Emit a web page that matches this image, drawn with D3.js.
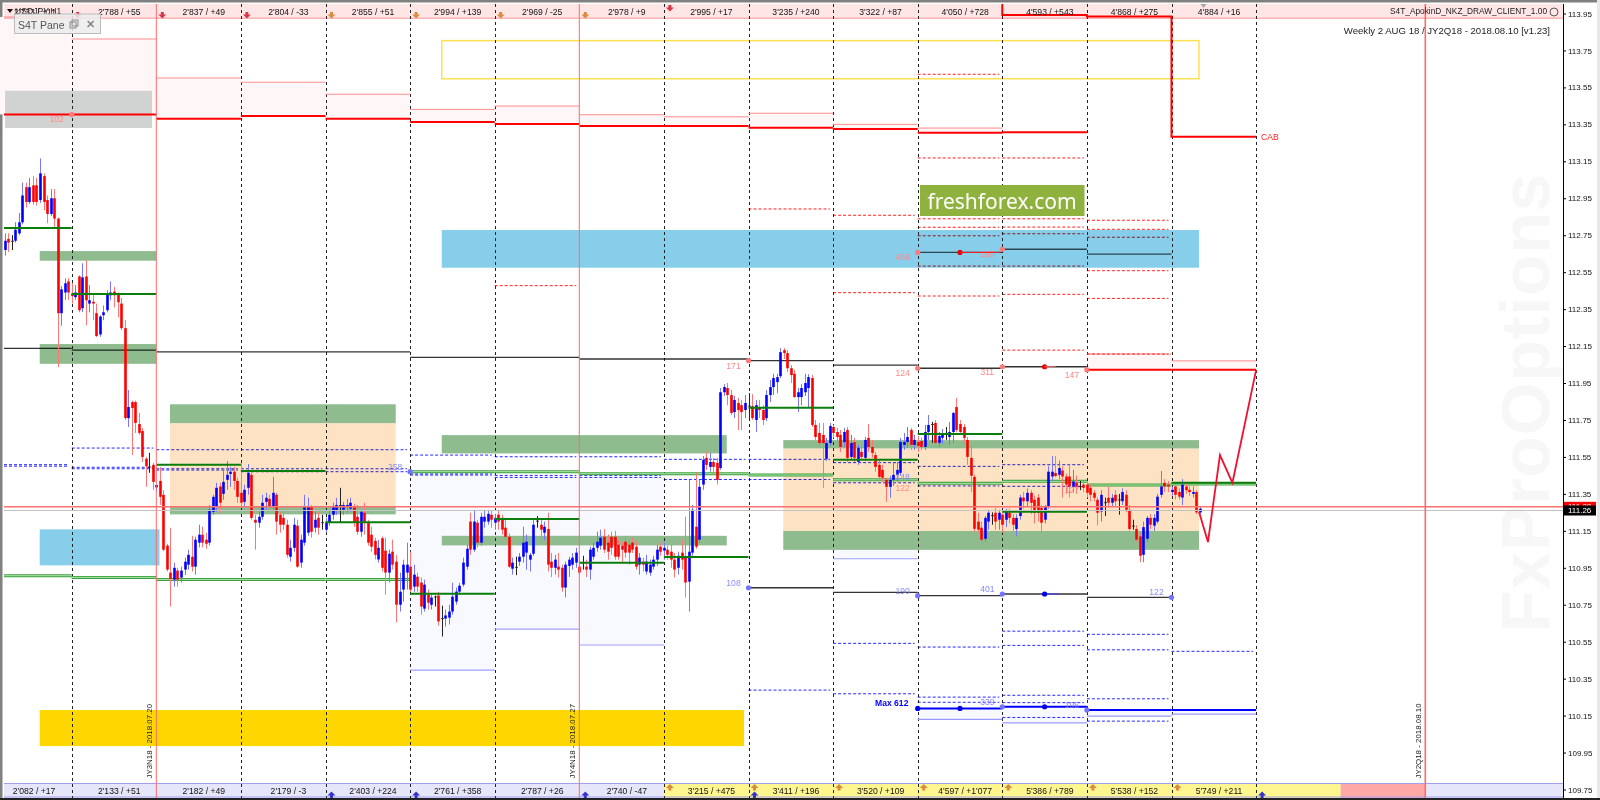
<!DOCTYPE html>
<html>
<head>
<meta charset="utf-8">
<style>
  html, body { margin: 0; padding: 0; background: #fff; }
  text { font-family: "Liberation Sans", Arial, sans-serif; font-size: 8.6px; }
</style>
<script src="https://cdn.jsdelivr.net/npm/d3@7"></script>
</head>
<body>
<div id="chart"></div>
<script>
// H1 bars per weekly column, each row is open, high, low, close
const barsM1 = [[112.67,112.76,112.64,112.72],[112.73,112.76,112.66,112.71],[112.72,112.75,112.67,112.715],[112.72,112.82,112.71,112.78],[112.76,112.87,112.75,112.82],[112.82,113.035,112.81,112.965],[113.01,113.035,112.90,112.93],[112.93,113.06,112.92,113.01],[113.02,113.07,112.915,112.93],[113.02,113.06,112.91,112.93],[112.94,113.165,112.925,113.085],[113.07,113.085,112.885,112.93],[112.94,112.965,112.815,112.865],[112.865,113,112.855,112.95],[112.95,113,112.785,112.84],[112.84,112.846,112.036,112.328],[112.328,112.475,112.26,112.457],[112.44,112.517,112.40,112.49],[112.5,112.517,112.40,112.44]];
const bars0 = [[112.435,112.49,112.38,112.42],[112.415,112.48,112.40,112.44],[112.527,112.533,112.333,112.344],[112.355,112.598,112.333,112.522],[112.527,112.614,112.263,112.398],[112.38,112.48,112.333,112.398],[112.39,112.43,112.29,112.38],[112.328,112.38,112.2,112.204],[112.213,112.317,112.2,112.31],[112.317,112.37,112.29,112.333],[112.344,112.452,112.333,112.435],[112.425,112.5,112.398,112.44],[112.445,112.47,112.36,112.425],[112.435,112.44,112.306,112.387],[112.38,112.41,112.236,112.247],[112.247,112.29,111.75,111.76],[111.76,111.912,111.712,111.82],[111.847,111.855,111.56,111.815],[111.847,111.855,111.68,111.734],[111.728,111.788,111.67,111.68],[111.69,111.707,111.523,111.55],[111.54,111.55,111.388,111.50],[111.498,111.572,111.464,111.494],[111.507,111.518,111.372,111.415]];
const bars1 = [[111.385,111.40,111.36,111.398],[111.42,111.496,111.29,111.334],[111.345,111.37,111.04,111.048],[111.07,111.08,110.93,110.94],[110.924,111.167,110.74,110.89],[110.886,110.978,110.848,110.95],[110.935,110.95,110.848,110.886],[110.897,110.956,110.87,110.935],[110.94,111.005,110.91,110.983],[110.967,111.048,110.94,111.02],[111.01,111.123,110.93,110.956],[110.956,111.118,110.913,111.102],[111.086,111.183,111.06,111.129],[111.129,111.172,111.06,111.086],[111.102,111.14,111.053,111.08],[111.086,111.29,111.07,111.264],[111.253,111.345,111.237,111.334],[111.28,111.41,111.253,111.383],[111.39,111.41,111.248,111.302],[111.35,111.49,111.318,111.415],[111.426,111.528,111.372,111.453],[111.458,111.496,111.388,111.47],[111.47,111.496,111.372,111.42],[111.42,111.437,111.302,111.334]];
const bars2 = [[111.356,111.518,111.28,111.302],[111.307,111.4,111.28,111.372],[111.383,111.512,111.345,111.464],[111.453,111.48,111.21,111.22],[111.21,111.237,111.048,111.194],[111.194,111.253,111.167,111.226],[111.226,111.345,111.21,111.302],[111.307,111.356,111.264,111.329],[111.323,111.345,111.264,111.28],[111.28,111.442,111.264,111.356],[111.345,111.356,111.129,111.2],[111.237,111.253,111.14,111.183],[111.22,111.264,111.156,111.183],[111.183,111.21,111.005,111.02],[111.01,111.102,110.983,111.058],[111.058,111.22,111.037,111.183],[111.178,111.21,110.95,110.956],[110.978,111.129,110.95,111.102],[111.086,111.345,111.07,111.28],[111.14,111.33,111.123,111.28],[111.28,111.29,111.113,111.145],[111.167,111.253,111.14,111.21],[111.22,111.253,111.129,111.167],[111.197,111.237,111.156,111.193]];
const bars3 = [[111.156,111.22,111.14,111.194],[111.194,111.264,111.178,111.237],[111.237,111.302,111.21,111.28],[111.258,111.329,111.237,111.29],[111.29,111.383,111.194,111.285],[111.264,111.307,111.237,111.29],[111.28,111.323,111.248,111.29],[111.27,111.329,111.253,111.302],[111.28,111.296,111.172,111.194],[111.226,111.29,111.129,111.145],[111.145,111.264,111.118,111.253],[111.248,111.302,111.129,111.2],[111.194,111.21,111.07,111.086],[111.129,111.172,111.037,111.064],[111.096,111.113,110.995,111.02],[110.995,111.102,110.978,111.058],[111.11,111.12,110.93,110.95],[111.043,111.113,110.805,110.924],[110.924,111.048,110.87,111.026],[111.037,111.102,110.94,110.967],[110.983,111.02,110.654,110.75],[110.75,110.924,110.713,110.82],[110.832,110.994,110.767,110.967],[110.924,111.086,110.832,110.967]];
const bars4 = [[110.956,111.037,110.82,110.832],[110.848,110.967,110.82,110.913],[110.902,110.924,110.82,110.848],[110.87,110.897,110.697,110.74],[110.729,110.886,110.713,110.859],[110.805,110.832,110.724,110.761],[110.75,110.805,110.724,110.789],[110.795,110.8,110.74,110.79],[110.8,110.82,110.637,110.66],[110.678,110.745,110.578,110.674],[110.675,110.724,110.632,110.692],[110.68,110.75,110.643,110.713],[110.713,110.869,110.697,110.794],[110.767,110.843,110.75,110.821],[110.821,110.869,110.805,110.853],[110.859,111.005,110.848,110.978],[110.956,111.075,110.94,111.053],[111.2,111.248,111.02,111.048],[111.048,111.264,111.037,111.2],[111.194,111.21,111.06,111.086],[111.086,111.248,111.07,111.226],[111.2,111.264,111.167,111.226],[111.2,111.264,111.183,111.242],[111.237,111.258,111.167,111.21]];
const bars5 = [[111.194,111.24,111.156,111.22],[111.237,111.264,111.156,111.2],[111.22,111.237,111.129,111.156],[111.167,111.21,111.1,111.118],[111.118,111.135,110.95,110.956],[110.945,111.005,110.913,110.978],[110.955,111.01,110.91,110.95],[110.983,111.03,110.96,111.01],[111.01,111.172,110.978,111.086],[111.032,111.129,110.94,111.091],[110.994,111.03,110.93,111.02],[111.026,111.21,111.015,111.183],[111.205,111.23,111.167,111.2],[111.183,111.21,111.1,111.156],[111.14,111.2,111.1,111.172],[111.16,111.248,110.93,110.967],[110.983,111.03,110.9,110.95],[110.95,111.02,110.913,110.994],[110.956,111.03,110.897,110.94],[110.95,110.967,110.82,110.843],[110.843,110.983,110.789,110.967],[110.96,111.01,110.9,110.994],[110.967,111.03,110.94,111.005],[110.978,111.058,110.95,111.032]];
const bars6 = [[110.956,110.994,110.913,110.924],[110.98,111.015,110.94,110.975],[110.956,110.994,110.9,110.94],[110.94,111.064,110.886,111.048],[111.01,111.086,110.994,111.058],[111.058,111.145,111.037,111.091],[111.07,111.156,111.048,111.113],[111.118,111.16,111.03,111.048],[111.086,111.13,110.994,111.037],[111.118,111.145,111.02,111.058],[111.118,111.15,110.994,111.01],[111.075,111.102,110.994,111.01],[111.07,111.09,110.983,111.048],[111.091,111.123,111.005,111.032],[111.075,111.102,110.967,111.032],[111.086,111.113,111.03,111.048],[111.064,111.096,110.94,110.956],[110.967,111.03,110.913,111.005],[110.983,111.005,110.93,110.967],[110.93,111.02,110.913,110.983],[110.924,110.994,110.907,110.967],[110.956,111.015,110.94,110.994],[110.994,111.075,110.96,111.048],[111.064,111.086,111.015,111.037]];
const bars7 = [[111.043,111.086,110.994,111.058],[111.048,111.07,110.994,111.02],[111.037,111.075,110.95,110.994],[110.994,111.03,110.897,110.94],[110.95,111.037,110.913,111.015],[111.032,111.102,110.94,110.994],[111.01,111.226,110.789,110.87],[110.875,111.426,110.713,111.037],[111.032,111.29,111.015,111.264],[111.172,111.464,111.053,111.064],[111.102,111.426,111.086,111.388],[111.4,111.555,111.372,111.534],[111.545,111.577,111.48,111.507],[111.496,111.572,111.47,111.523],[111.523,111.545,111.453,111.496],[111.518,111.545,111.4,111.426],[111.49,111.923,111.48,111.9],[111.9,111.944,111.88,111.928],[111.923,111.95,111.83,111.885],[111.885,111.912,111.777,111.788],[111.793,111.88,111.76,111.858],[111.842,111.87,111.696,111.804],[111.83,111.858,111.696,111.793],[111.804,111.885,111.76,111.842]];
const bars8 = [[111.828,111.896,111.76,111.823],[111.825,111.89,111.75,111.76],[111.75,111.858,111.685,111.83],[111.815,111.858,111.76,111.804],[111.804,111.83,111.723,111.75],[111.76,111.912,111.745,111.885],[111.885,111.966,111.847,111.928],[111.928,112.0,111.885,111.977],[111.955,112.0,111.895,111.982],[111.987,112.139,111.977,112.117],[112.128,112.139,112.08,112.112],[112.112,112.128,112.01,112.03],[112.03,112.047,111.95,111.993],[112.0,112.02,111.87,111.874],[111.874,111.923,111.793,111.9],[111.874,111.944,111.83,111.923],[111.9,112.0,111.88,111.95],[111.923,111.998,111.82,111.982],[111.977,111.993,111.712,111.723],[111.723,111.75,111.642,111.658],[111.68,111.734,111.604,111.625],[111.669,111.734,111.383,111.625],[111.54,111.653,111.528,111.625],[111.625,111.734,111.61,111.717]];
const bars9 = [[111.712,111.723,111.653,111.68],[111.685,111.707,111.615,111.658],[111.669,111.696,111.577,111.604],[111.63,111.707,111.604,111.685],[111.696,111.712,111.523,111.545],[111.55,111.669,111.534,111.625],[111.63,111.653,111.523,111.545],[111.523,111.615,111.507,111.6],[111.577,111.615,111.534,111.55],[111.545,111.658,111.528,111.642],[111.653,111.728,111.577,111.604],[111.604,111.642,111.545,111.572],[111.56,111.577,111.47,111.496],[111.507,111.534,111.426,111.442],[111.48,111.507,111.415,111.437],[111.426,111.437,111.307,111.388],[111.388,111.448,111.329,111.426],[111.426,111.518,111.393,111.453],[111.453,111.523,111.415,111.48],[111.464,111.653,111.448,111.631],[111.615,111.68,111.588,111.631],[111.631,111.712,111.6,111.658],[111.696,111.707,111.588,111.615],[111.615,111.669,111.588,111.642]];
const bars10 = [[111.63,111.663,111.577,111.61],[111.636,111.653,111.588,111.604],[111.604,111.723,111.588,111.685],[111.685,111.777,111.642,111.723],[111.728,111.74,111.626,111.723],[111.734,111.75,111.615,111.626],[111.626,111.685,111.604,111.663],[111.653,111.701,111.62,111.674],[111.68,111.712,111.642,111.675],[111.658,111.739,111.615,111.685],[111.685,111.793,111.626,111.788],[111.82,111.87,111.685,111.696],[111.728,111.75,111.669,111.685],[111.712,111.728,111.631,111.653],[111.642,111.658,111.507,111.55],[111.545,111.62,111.36,111.448],[111.442,111.453,111.145,111.161],[111.2,111.248,111.14,111.156],[111.167,111.2,111.086,111.102],[111.107,111.23,111.091,111.22],[111.2,111.264,111.156,111.248],[111.235,111.25,111.183,111.23],[111.248,111.275,111.156,111.2],[111.21,111.264,111.156,111.248]];
const bars11 = [[111.237,111.248,111.14,111.183],[111.21,111.27,111.17,111.255],[111.248,111.27,111.19,111.22],[111.22,111.24,111.15,111.183],[111.16,111.24,111.12,111.22],[111.23,111.345,111.21,111.33],[111.33,111.36,111.27,111.31],[111.31,111.38,111.28,111.356],[111.356,111.37,111.24,111.302],[111.318,111.34,111.19,111.248],[111.33,111.35,111.2,111.248],[111.275,111.29,111.14,111.194],[111.21,111.29,111.19,111.28],[111.28,111.5,111.27,111.47],[111.444,111.555,111.42,111.47],[111.463,111.555,111.44,111.447],[111.453,111.53,111.43,111.49],[111.476,111.5,111.33,111.444],[111.444,111.46,111.35,111.4],[111.444,111.51,111.33,111.39],[111.39,111.48,111.36,111.417],[111.41,111.45,111.35,111.39],[111.392,111.42,111.37,111.388],[111.4,111.42,111.36,111.383]];
const bars12 = [[111.4,111.42,111.33,111.356],[111.383,111.4,111.31,111.345],[111.356,111.37,111.31,111.329],[111.318,111.33,111.18,111.248],[111.255,111.37,111.2,111.345],[111.305,111.33,111.23,111.3],[111.329,111.39,111.28,111.302],[111.302,111.35,111.28,111.329],[111.345,111.37,111.28,111.31],[111.32,111.35,111.237,111.315],[111.31,111.38,111.29,111.36],[111.345,111.37,111.25,111.264],[111.264,111.29,111.15,111.16],[111.178,111.21,111.156,111.173],[111.16,111.18,111.09,111.102],[111.12,111.14,110.98,111.015],[111.02,111.2,110.98,111.17],[111.107,111.23,111.09,111.22],[111.22,111.24,111.16,111.183],[111.178,111.24,111.15,111.22],[111.2,111.35,111.19,111.335],[111.345,111.474,111.33,111.39],[111.41,111.43,111.36,111.39],[111.4,111.42,111.36,111.39]];
const bars13 = [[111.36,111.39,111.34,111.372],[111.39,111.41,111.32,111.345],[111.36,111.38,111.32,111.335],[111.33,111.43,111.29,111.4],[111.39,111.41,111.35,111.37],[111.372,111.39,111.34,111.36],[111.35,111.39,111.33,111.36],[111.36,111.37,111.24,111.25],[111.25,111.28,111.24,111.27]];

// weekly levels, one value per column starting at column -1
const redMain = [113.404,113.404,113.38,113.395,113.38,113.363,113.352,113.341,113.341,113.332,113.325,113.305,113.307,112.022,112.022];
const redTop = [113.931,113.812,113.601,113.578,113.513,113.431,113.449,113.402,113.391,113.41,113.35,113.33,null,112.107,112.07];
const capLevels = [113.942,113.934,113.283];
const blackTop = [112.138,112.128,112.119,112.119,112.119,112.089,112.089,112.08,112.08,112.071,112.047,112.03,112.038,null,null];
const blackMid = [null,null,null,null,null,null,null,null,null,null,null,112.657,112.674,112.648,null];
const blackLow = [null,null,null,null,null,null,null,null,null,110.842,110.817,110.799,110.808,110.79,null];
const greenDark = [112.789,112.432,111.508,111.474,111.196,110.809,111.214,110.977,111.008,111.816,111.535,111.674,111.253,null,null];
const greenLight = [110.907,110.898,110.887,110.887,110.887,111.47,111.47,111.459,111.459,111.452,111.426,111.407,111.418,111.398,111.403];
const blueMain = [null,null,null,null,null,null,null,null,null,null,null,110.189,110.198,110.18,110.18];
const blueBase = [null,null,null,null,null,null,null,null,null,null,null,110.13,110.111,110.147,110.158];

// lavender bands: column, top, bottom
const lavenderBands = [[4,111.452,110.396],[5,111.447,110.618],[6,111.44,110.532],[9,111.405,110.999]];

// dashed levels: column, price
const redDashes = [[5,112.477],[8,112.892],[9,112.858],[9,112.439],[10,113.621],[10,113.168],[10,112.839],[10,112.793],[10,112.747],[10,112.583],[10,112.421],[11,113.168],[11,112.839],[11,112.794],[11,112.758],[11,112.583],[11,112.43],[11,112.128],[12,112.831],[12,112.782],[12,112.739],[12,112.558],[12,112.408],[12,112.107]];
const blueDashes = [[-1,111.508],[-1,111.5],[0,111.598],[0,111.494],[0,111.486],[1,111.589],[1,111.486],[1,111.479],[2,111.589],[2,111.486],[2,111.47],[3,111.589],[3,111.486],[3,111.47],[4,111.56],[4,111.458],[4,111.452],[5,111.551],[5,111.45],[5,111.439],[6,111.551],[6,111.45],[6,111.439],[7,111.537],[7,111.428],[8,111.537],[8,111.428],[9,111.519],[9,111.41],[10,111.499],[10,111.393],[11,111.508],[11,111.391],[8,110.288],[9,110.541],[9,110.268],[10,110.521],[10,110.25],[10,110.222],[11,110.607],[11,110.53],[11,110.26],[11,110.22],[11,110.14],[12,110.59],[12,110.506],[12,110.241],[12,110.12],[13,110.498]];

// zones: column from, column to, top, bottom
const greenZones = [[-0.378,1,112.664,112.612],[-0.378,1,112.161,112.054],[1.162,3.83,111.835,111.733],[1.162,3.83,111.28,111.239],[4.374,7.743,111.668,111.569],[4.374,7.743,111.123,111.071],[8.411,13.325,111.641,111.596],[8.411,13.325,111.149,111.047]];
const peachZones = [[1.162,3.83,111.733,111.28],[8.411,13.325,111.596,111.149]];
const blueZones = [[-0.378,1.038,111.158,110.963],[4.374,13.325,112.778,112.574]];
const goldZones = [[-0.378,7.947,110.18,109.985]];
const grayZones = [[-0.788,0.95,113.532,113.33]];
const yellowBoxes = [[4.374,13.325,113.803,113.597]];

// forecast path: column, price
const forecastCols = [13.325,13.431,13.573,13.72,14];
const forecastPrices = [111.253,111.089,111.56,111.41,112.02];

// markers with their numbers: column, price, label
const redMarks = [[0,113.404,"102"],[8,112.071,"171"],[10,112.03,"124"],[11,112.038,"311"],[12,112.022,"147"],[10,112.657,"466"],[11,112.674,"199"]];
const redExtra = [[10,111.407,"122"],[12,111.398,"127"]];
const blueMarks = [[8,110.842,"108"],[10,110.799,"190"],[11,110.808,"401"],[13,110.79,"122"],[11,110.198,"339"],[12,110.18,"196"],[4,111.47,"258"]];
const blueExtra = [[10,111.407,"148"]];
const darkRedDots = [[10.5,112.657],[11.5,112.038]];
const darkBlueDots = [[10,110.189],[10.5,110.189],[11.5,110.198],[11.5,110.808]];

// header and footer figures, first one sits in column -1
const headerLabels = ["2'733 / +11","2'788 / +55","2'837 / +49","2'804 / -33","2'855 / +51","2'994 / +139","2'969 / -25","2'978 / +9","2'995 / +17","3'235 / +240","3'322 / +87","4'050 / +728","4'593 / +543","4'868 / +275","4'884 / +16"];
const footerLabels = ["2'082 / +17","2'133 / +51","2'182 / +49","2'179 / -3","2'403 / +224","2'761 / +358","2'787 / +26","2'740 / -47","3'215 / +475","3'411 / +196","3'520 / +109","4'597 / +1'077","5'386 / +789","5'538 / +152","5'749 / +211"];
const headerRedArrows = [0,1,2];
const headerOrangeArrows = [3,4,5,6];
const footerBlueArrows = [3,4,6,8,14];
const footerOrangeArrows = [7,8,9,10,11,12,13];

const dashedCols = [0,2,3,4,5,7,8,9,10,11,12,13,14];
const redCols = [1,6,16];
const expiryLabels = ["JY3N18 - 2018.07.20","JY4N18 - 2018.07.27","JY2Q18 - 2018.08.10"];
const priceTicks = [113.95,113.75,113.55,113.35,113.15,112.95,112.75,112.55,112.35,112.15,111.95,111.75,111.55,111.35,111.15,110.95,110.75,110.55,110.35,110.15,109.95,109.75];
const askPrice = 111.28, bidPrice = 111.26;


const width = 1600, height = 800;
const plotLeft = 4, plotRight = 1563, plotTop = 4, plotBottom = 798;

const svg = d3.select("#chart").append("svg")
    .attr("width", width)
    .attr("height", height)
    .style("display", "block");

// one unit of x is one weekly column of 24 H1 bars
const x = d3.scaleLinear().domain([0, 1]).range([71.7, 156.3]);
const y = d3.scaleLinear().domain([113.95, 109.75]).range([13.5, 789.5]);
const colLeft = c => Math.max(plotLeft, x(c));

const frame = svg.append("g");
frame.append("rect").attr("width", width).attr("height", height).attr("fill", "#fff");
frame.append("rect").attr("x", 0).attr("y", 0).attr("width", 2.5).attr("height", height).attr("fill", "#808080");
frame.append("rect").attr("x", 0).attr("y", 0).attr("width", width).attr("height", 2.5).attr("fill", "#808080");
frame.append("rect").attr("x", 1597).attr("y", 0).attr("width", 3).attr("height", height).attr("fill", "#e8e8e8");
frame.append("rect").attr("x", 0).attr("y", 798).attr("width", width).attr("height", 2).attr("fill", "#222");

// watermark
svg.append("text")
    .attr("transform", "translate(1549,632) rotate(-90)")
    .style("font-size", "68px")
    .style("font-weight", "bold")
    .style("letter-spacing", "0.8px")
    .attr("fill", "#f7f7f7")
    .text("FxProOptions");

function zones(rows, fill, opacity){
    svg.append("g").selectAll("rect")
        .data(rows)
        .join("rect")
        .attr("x", d => x(d[0]))
        .attr("width", d => x(d[1]) - x(d[0]))
        .attr("y", d => y(d[2]))
        .attr("height", d => y(d[3]) - y(d[2]))
        .attr("fill", fill)
        .attr("opacity", opacity == null ? 1 : opacity);
}

// light bands behind the weekly levels
const bandRows = redTop.map((d, i) => [i - 1, i, d, redMain[i]]).filter(d => d[2] != null);
zones(bandRows.map(d => [Math.max(d[0], -0.95), d[1], d[2], d[3]]), "#fff7f7");
zones(lavenderBands.map(d => [d[0], d[0] + 1, d[1], d[2]]), "#f8f8ff");
zones(blueMain.map((d, i) => [i - 1, i, d, blueBase[i]]).filter(d => d[2] != null), "#f8f8ff");

zones(grayZones, "#d1d3d2");
zones(peachZones, "#fde3c3");
zones(greenZones, "#8fbc8f");
zones(blueZones, "#87ceeb");
zones(goldZones, "#ffd700");

svg.append("g").selectAll("rect")
    .data(yellowBoxes)
    .join("rect")
    .attr("x", d => x(d[0]))
    .attr("width", d => x(d[1]) - x(d[0]))
    .attr("y", d => y(d[2]))
    .attr("height", d => y(d[3]) - y(d[2]))
    .attr("fill", "none")
    .attr("stroke", "#ffe050")
    .attr("stroke-width", 1.5);

// header and footer strips
const strips = svg.append("g");
strips.append("rect").attr("x", plotLeft).attr("y", plotTop).attr("width", plotRight - plotLeft).attr("height", 15).attr("fill", "#ffe6e6");
strips.append("rect").attr("x", plotLeft).attr("y", 17.5).attr("width", plotRight - plotLeft).attr("height", 1.5).attr("fill", "#ffb4b4");
strips.append("rect").attr("x", plotLeft).attr("y", 783).attr("width", plotRight - plotLeft).attr("height", 15).attr("fill", "#e6e6fa");
strips.append("rect").attr("x", x(7)).attr("y", 783).attr("width", x(15) - x(7)).attr("height", 15).attr("fill", "#fff68f");
strips.append("rect").attr("x", x(15)).attr("y", 783).attr("width", x(16) - x(15)).attr("height", 15).attr("fill", "#ffa8a8");
strips.append("rect").attr("x", plotLeft).attr("y", 783).attr("width", plotRight - plotLeft).attr("height", 1).attr("fill", "#a0a0ee");
strips.append("rect").attr("x", plotLeft).attr("y", 796.5).attr("width", plotRight - plotLeft).attr("height", 1).attr("fill", "#a0a0ee");

// week separators
svg.append("g").selectAll("line")
    .data(dashedCols)
    .join("line")
    .attr("x1", d => Math.round(x(d)) + 0.5).attr("x2", d => Math.round(x(d)) + 0.5)
    .attr("y1", plotTop).attr("y2", plotBottom)
    .attr("stroke", "#222")
    .attr("stroke-dasharray", "3,3");

// level segments, i is index into the level array so column is i - 1
function levels(values, stroke, strokeWidth, blend){
    svg.append("g").selectAll("line")
        .data(values.map((d, i) => ({p: d, c: i - 1})).filter(d => d.p != null))
        .join("line")
        .attr("x1", d => colLeft(d.c)).attr("x2", d => x(d.c + 1))
        .attr("y1", d => y(d.p)).attr("y2", d => y(d.p))
        .attr("stroke", stroke)
        .attr("stroke-width", strokeWidth)
        .style("mix-blend-mode", blend || "normal");
}

function dashes(rows, stroke){
    svg.append("g").selectAll("line")
        .data(rows)
        .join("line")
        .attr("x1", d => colLeft(d[0])).attr("x2", d => x(d[0] + 1) - 3)
        .attr("y1", d => y(d[1])).attr("y2", d => y(d[1]))
        .attr("stroke", stroke)
        .attr("stroke-dasharray", "3,2")
        .style("mix-blend-mode", "multiply");
}

levels(redTop, "#ff8c8c", 1);
dashes(redDashes, "#ff2020");
dashes(blueDashes, "#2828ff");
levels(blackTop, "#333", 1.3, "multiply");
levels(blackMid, "#555", 1.3, "multiply");
levels(blackLow, "#333", 1.3);
levels(blueBase, "#9a9aff", 1.2);
levels(lavenderBands.map(d => d[2]).reduce((acc, p, i) => { acc[lavenderBands[i][0] + 1] = p; return acc; }, new Array(15).fill(null)), "#a0a0ff", 1.2);
levels(redMain, "#ff0000", 2);
levels(blueMain, "#0000ff", 2);
levels(greenLight, "#3da03d", 3);
levels(greenLight, "#b0e6b0", 1);

// candles
const weeks = [barsM1, bars0, bars1, bars2, bars3, bars4, bars5, bars6, bars7, bars8, bars9, bars10, bars11, bars12, bars13];
const allBars = [];
weeks.forEach((rows, w) => {
    const first = w == 0 ? 5 : 0; // first column starts part way
    rows.forEach((r, j) => {
        allBars.push({c: w - 1 + (j + first) / 24, o: r[0], h: r[1], l: r[2], cl: r[3]});
    });
});

function barColor(d, body){
    if(Math.abs(d.o - d.cl) < 0.008) return "#222";
    if(d.cl > d.o) return body ? "#0000ff" : "#7676ff";
    return body ? "#ff0000" : "#ff7676";
}

const candles = svg.append("g");
candles.selectAll("line")
    .data(allBars)
    .join("line")
    .attr("x1", d => Math.round(x(d.c)) + 0.5).attr("x2", d => Math.round(x(d.c)) + 0.5)
    .attr("y1", d => y(d.h)).attr("y2", d => y(d.l))
    .attr("stroke", d => barColor(d, false));
candles.selectAll("rect")
    .data(allBars)
    .join("rect")
    .attr("x", d => Math.round(x(d.c)) - 0.8)
    .attr("width", 2.6)
    .attr("y", d => y(Math.max(d.o, d.cl)))
    .attr("height", d => Math.max(1, Math.abs(y(d.o) - y(d.cl))))
    .attr("fill", d => barColor(d, true));

// thick green lines sit on top of the bars
levels(greenDark, "#0a7d0a", 2);
svg.append("line").attr("x1", x(13)).attr("x2", x(14)).attr("y1", y(111.41)).attr("y2", y(111.41)).attr("stroke", "#0a7d0a").attr("stroke-width", 2);

// current prices
svg.append("line").attr("x1", plotLeft).attr("x2", plotRight).attr("y1", y(bidPrice)).attr("y2", y(bidPrice)).attr("stroke", "#c4c4c4");
svg.append("line").attr("x1", plotLeft).attr("x2", plotRight).attr("y1", y(askPrice)).attr("y2", y(askPrice)).attr("stroke", "#ff7070").attr("stroke-width", 1.6);

// red verticals
svg.append("g").selectAll("line")
    .data(redCols)
    .join("line")
    .attr("x1", d => x(d)).attr("x2", d => x(d))
    .attr("y1", plotTop).attr("y2", plotBottom)
    .attr("stroke", "#ff6a6a")
    .attr("stroke-width", d => d == 16 ? 1.6 : 1);

// step line running off the top
const capPoints = [[11, 114.0]];
capLevels.forEach((p, i) => { capPoints.push([11 + i, p]); capPoints.push([12 + i, p]); });
capPoints.splice(capPoints.length - 1, 1);
capPoints.push([14, capLevels[2]]);
svg.append("path")
    .attr("d", d3.line().x(d => x(d[0])).y(d => y(d[1]))(capPoints))
    .attr("fill", "none")
    .attr("stroke", "#ff0000")
    .attr("stroke-width", 2);
svg.append("text").attr("x", x(14) + 5).attr("y", y(capLevels[2]) + 3).attr("fill", "#ff2020").text("CAB");

// forecast path
svg.append("path")
    .attr("d", d3.line().x((d, i) => x(forecastCols[i])).y(d => y(d))(forecastPrices))
    .attr("fill", "none")
    .attr("stroke", "#f01030")
    .attr("stroke-width", 1.8);

// marker dots and numbers
function marks(rows, dotColor, textColor, dy){
    svg.append("g").selectAll("circle")
        .data(rows)
        .join("circle")
        .attr("cx", d => x(d[0])).attr("cy", d => y(d[1]))
        .attr("r", 2.6)
        .attr("fill", dotColor);
    svg.append("g").selectAll("text")
        .data(rows)
        .join("text")
        .attr("x", d => x(d[0]) - 15).attr("y", d => y(d[1]) + dy)
        .attr("text-anchor", "middle")
        .attr("dominant-baseline", "central")
        .attr("fill", textColor)
        .text(d => d[2]);
}
marks(redMarks, "#ff7a7a", "#ff8a8a", 5);
marks(blueMarks, "#7474ff", "#8a8aff", -5);
svg.append("g").selectAll("text")
    .data(redExtra)
    .join("text")
    .attr("x", d => x(d[0]) - 15).attr("y", d => y(d[1]) + 5)
    .attr("text-anchor", "middle").attr("dominant-baseline", "central")
    .attr("fill", "#ff8a8a").text(d => d[2]);
svg.append("g").selectAll("text")
    .data(blueExtra)
    .join("text")
    .attr("x", d => x(d[0]) - 15).attr("y", d => y(d[1]) - 6)
    .attr("text-anchor", "middle").attr("dominant-baseline", "central")
    .attr("fill", "#8a8aff").text(d => d[2]);
svg.append("g").selectAll("circle")
    .data(darkRedDots).join("circle")
    .attr("cx", d => x(d[0])).attr("cy", d => y(d[1])).attr("r", 2.6).attr("fill", "#f00000");
svg.append("line").attr("x1", x(10.5)).attr("x2", x(10.97)).attr("y1", y(112.657)).attr("y2", y(112.657)).attr("stroke", "#ff2020");
svg.append("line").attr("x1", x(11.5)).attr("x2", x(11.63)).attr("y1", y(112.038)).attr("y2", y(112.038)).attr("stroke", "#ff7070");
svg.append("line").attr("x1", x(11.5)).attr("x2", x(11.67)).attr("y1", y(110.808)).attr("y2", y(110.808)).attr("stroke", "#4040ff");
svg.append("g").selectAll("circle")
    .data(darkBlueDots).join("circle")
    .attr("cx", d => x(d[0])).attr("cy", d => y(d[1])).attr("r", 2.6).attr("fill", "#0000f0");
svg.append("text").attr("x", x(10) - 26).attr("y", y(110.189) - 5.5)
    .attr("text-anchor", "middle").attr("dominant-baseline", "central")
    .style("font-weight", "bold").attr("fill", "#0000ff").text("Max 612");

// header and footer figures
svg.append("g").selectAll("text")
    .data(headerLabels)
    .join("text")
    .attr("x", (d, i) => i == 0 ? 35 : x(i - 1) + 47.5)
    .attr("y", 12)
    .attr("text-anchor", "middle").attr("dominant-baseline", "central")
    .attr("fill", "#111")
    .text(d => d);
svg.append("g").selectAll("text")
    .data(footerLabels)
    .join("text")
    .attr("x", (d, i) => i == 0 ? 34 : x(i - 1) + 47.5)
    .attr("y", 790.5)
    .attr("text-anchor", "middle").attr("dominant-baseline", "central")
    .attr("fill", "#111")
    .text(d => d);

// little arrows in the strips
const arrowDown = [[-1.5,-3],[1.5,-3],[1.5,-0.5],[4,-0.5],[0,3.5],[-4,-0.5],[-1.5,-0.5]];
const arrowUp = arrowDown.map(d => [d[0], -d[1]]);
const arrowPath = d3.line().curve(d3.curveLinearClosed);
function arrows(cols, shape, cy, fill){
    svg.append("g").selectAll("path")
        .data(cols)
        .join("path")
        .attr("d", arrowPath(shape))
        .attr("transform", d => `translate(${x(d) + 6},${cy})`)
        .attr("fill", fill);
}
arrows(headerRedArrows, arrowDown, 15, "#d8364a");
arrows(headerOrangeArrows, arrowDown, 15, "#d98c40");
arrows([7], arrowDown, 8, "#d8364a");
arrows(footerOrangeArrows, arrowUp, 787.5, "#d98c40");
arrows(footerBlueArrows, arrowUp, 795, "#3434cc");
svg.append("path").attr("d", arrowPath([[-3,0],[3,0],[0,4]])).attr("transform", `translate(${x(13) + 32},4)`).attr("fill", "#a8a8a8");

// expiry labels on the red verticals
svg.append("g").selectAll("text")
    .data(expiryLabels)
    .join("text")
    .attr("transform", (d, i) => `translate(${x(redCols[i]) - 4},778.5) rotate(-90)`)
    .style("font-size", "7.9px")
    .attr("fill", "#222")
    .text(d => d);

// price axis
svg.append("g")
    .attr("transform", `translate(${plotRight},0)`)
    .call(d3.axisRight(y).tickValues(priceTicks).tickSize(3).tickPadding(2).tickFormat(d3.format(".2f")))
    .call(g => g.select(".domain").remove())
    .call(g => g.selectAll("text").style("font-size", "8px").style("font-family", "'Liberation Sans', Arial, sans-serif").attr("fill", "#111"));
svg.append("line").attr("x1", plotRight + 0.5).attr("x2", plotRight + 0.5).attr("y1", plotTop).attr("y2", plotBottom).attr("stroke", "#000");

svg.append("rect").attr("x", plotRight + 1).attr("y", y(askPrice) - 5).attr("width", 32).attr("height", 9).attr("fill", "#ff0000");
svg.append("text").attr("x", plotRight + 5).attr("y", y(askPrice) - 0.5).attr("dominant-baseline", "central").style("font-size", "8px").attr("fill", "#fff").text(askPrice.toFixed(2));
svg.append("rect").attr("x", plotRight + 1).attr("y", y(bidPrice) - 5).attr("width", 32).attr("height", 10).attr("fill", "#000");
svg.append("text").attr("x", plotRight + 5).attr("y", y(bidPrice)).attr("dominant-baseline", "central").style("font-size", "8px").attr("fill", "#fff").text(bidPrice.toFixed(2));

// top right titles
svg.append("text").attr("x", 1547).attr("y", 11).attr("text-anchor", "end").attr("dominant-baseline", "central")
    .attr("fill", "#222").style("font-size", "8.3px").text("S4T_ApokinD_NKZ_DRAW_CLIENT_1.00");
svg.append("circle").attr("cx", 1554).attr("cy", 12).attr("r", 4).attr("fill", "none").attr("stroke", "#333").attr("stroke-width", 0.8);
svg.append("text").attr("x", 1550).attr("y", 30).attr("text-anchor", "end").attr("dominant-baseline", "central")
    .attr("fill", "#222").style("font-size", "9.6px").text("Weekly 2 AUG 18 / JY2Q18 - 2018.08.10 [v1.23]");

// top left symbol and pane box
svg.append("path").attr("d", arrowPath([[-3,0],[3,0],[0,4]])).attr("transform", "translate(10,9)").attr("fill", "#111");
svg.append("text").attr("x", 15).attr("y", 10.5).attr("dominant-baseline", "central").attr("fill", "#222").text("USDJPY,H1");
const pane = svg.append("g");
pane.append("rect").attr("x", 14.5).attr("y", 14).attr("width", 86).attr("height", 19.5).attr("fill", "#ececec").attr("fill-opacity", 0.85).attr("stroke", "#bbb");
pane.append("text").attr("x", 18).attr("y", 24.5).attr("dominant-baseline", "central").attr("fill", "#555").style("font-size", "10.5px").text("S4T Pane");
pane.append("rect").attr("x", 70).attr("y", 22).attr("width", 6).attr("height", 6).attr("fill", "none").attr("stroke", "#888");
pane.append("rect").attr("x", 72).attr("y", 20).attr("width", 6).attr("height", 6).attr("fill", "none").attr("stroke", "#888");
pane.append("text").attr("x", 90).attr("y", 24).attr("text-anchor", "middle").attr("dominant-baseline", "central").attr("fill", "#888").style("font-size", "11px").style("font-weight", "bold").text("✕");

// advert box
svg.append("rect").attr("x", 920).attr("y", 185).attr("width", 164.5).attr("height", 31).attr("fill", "#8fb23f");
svg.append("text").attr("x", 1002).attr("y", 200.5).attr("text-anchor", "middle").attr("dominant-baseline", "central")
    .style("font-family", "'Noto Sans', sans-serif").style("font-size", "21px").attr("fill", "#fff").text("freshforex.com");
</script>
</body>
</html>
